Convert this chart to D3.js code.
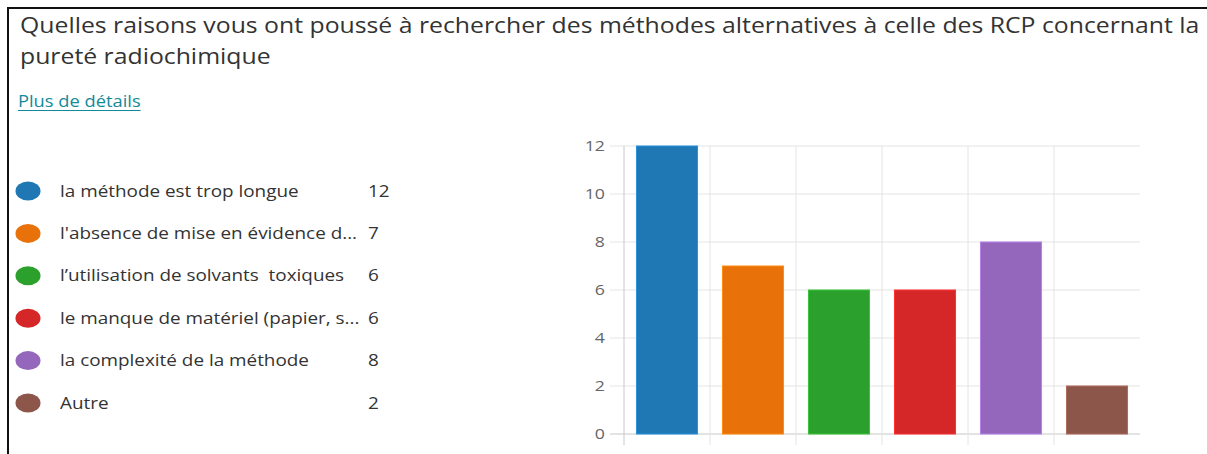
<!DOCTYPE html>
<html lang="fr">
<head>
<meta charset="utf-8">
<script src="https://cdn.jsdelivr.net/npm/d3@7"></script>
<style>
  html, body { margin: 0; padding: 0; background: #fff; }
  svg { display: block; }
  text { font-family: "Segoe UI", "Open Sans", "Noto Sans", sans-serif; white-space: pre; }
</style>
</head>
<body>
<svg id="chart" width="1207" height="454"></svg>
<script>
// Survey answers and counts
const categories = [
  "la méthode est trop longue",
  "l'absence de mise en évidence d...",
  "l\u2019utilisation de solvants  toxiques",
  "le manque de matériel (papier, s...",
  "la complexité de la méthode",
  "Autre"
];
const counts = [12, 7, 6, 6, 8, 2];
const colors = ["#1f77b4", "#e8710a", "#2ca02c", "#d62728", "#9467bd", "#8c564b"];
const yTicks = [0, 2, 4, 6, 8, 10, 12];
const titleLines = [
  "Quelles raisons vous ont poussé à rechercher des méthodes alternatives à celle des RCP concernant la",
  "pureté radiochimique"
];
const linkText = "Plus de détails";

// Text in this layout is rendered slightly wide
const widen = 1.18;
function stretch(sel, k = widen) {
  sel.each(function () {
    const w = this.getComputedTextLength();
    d3.select(this)
      .attr("textLength", w * k)
      .attr("lengthAdjust", "spacingAndGlyphs");
  });
}

const svg = d3.select("#chart");

// Frame (top and left edges)
svg.append("path")
  .attr("d", "M8,454 V8 H1207")
  .attr("fill", "none")
  .attr("stroke", "#111")
  .attr("stroke-width", 2);

// Question title
svg.selectAll("text.title")
  .data(titleLines)
  .join("text")
  .attr("class", "title")
  .attr("x", 20)
  .attr("y", (d, i) => 33 + i * 31)
  .attr("font-size", 21)
  .attr("fill", "#333")
  .text(d => d)
  .call(stretch);

// Details link
const link = svg.append("text")
  .attr("x", 18)
  .attr("y", 107)
  .attr("font-size", 15.5)
  .attr("fill", "#138a9a")
  .text(linkText);
const lw = link.node().getComputedTextLength() * widen;
link.call(stretch);
svg.append("line")
  .attr("x1", 18).attr("x2", 18 + lw)
  .attr("y1", 110.5).attr("y2", 110.5)
  .attr("stroke", "#138a9a").attr("stroke-width", 1);

// Legend
const legendY = d3.scalePoint().domain(d3.range(categories.length)).range([191, 403]);
const legend = svg.append("g").selectAll("g")
  .data(categories)
  .join("g")
  .attr("transform", (d, i) => `translate(0,${legendY(i)})`);
legend.append("ellipse")
  .attr("cx", 28).attr("cy", 0)
  .attr("rx", 12.5).attr("ry", 9.5)
  .attr("fill", (d, i) => colors[i]);
legend.append("text")
  .attr("x", 60).attr("y", 0).attr("dy", "0.35em")
  .attr("font-size", 16)
  .attr("fill", "#333")
  .text(d => d)
  .call(stretch);
legend.append("text")
  .attr("x", 368).attr("y", 0).attr("dy", "0.35em")
  .attr("font-size", 16)
  .attr("fill", "#333")
  .text((d, i) => counts[i])
  .call(stretch);

// Bar chart
const x = d3.scaleBand().domain(categories).range([624, 1140]).padding(0);
const y = d3.scaleLinear().domain([0, 12]).range([434, 146]);

// Horizontal grid lines with left tick stubs
svg.append("g").selectAll("line")
  .data(yTicks)
  .join("line")
  .attr("x1", 610).attr("x2", 1140)
  .attr("y1", d => y(d)).attr("y2", d => y(d))
  .attr("stroke", d => d === 0 ? "#c8c8c8" : "#e4e4e4")
  .attr("stroke-width", 1);

// Vertical grid lines at band edges, extending below the baseline
svg.append("g").selectAll("line")
  .data(categories)
  .join("line")
  .attr("x1", d => x(d)).attr("x2", d => x(d))
  .attr("y1", y(12)).attr("y2", 445)
  .attr("stroke", (d, i) => i === 0 ? "#c8c8c8" : "#e4e4e4")
  .attr("stroke-width", 1);

// Y axis labels
svg.append("g").selectAll("text")
  .data(yTicks)
  .join("text")
  .attr("x", 605)
  .attr("y", d => y(d))
  .attr("dy", "0.35em")
  .attr("text-anchor", "end")
  .attr("font-size", 15)
  .attr("fill", "#666")
  .text(d => d)
  .call(stretch);

// Bars
const inset = x.bandwidth() * 0.145;
svg.append("g").selectAll("rect")
  .data(counts)
  .join("rect")
  .attr("x", (d, i) => x(categories[i]) + inset)
  .attr("width", x.bandwidth() - 2 * inset)
  .attr("y", d => y(d))
  .attr("height", d => y(0) - y(d))
  .attr("fill", (d, i) => colors[i])
  .attr("stroke", (d, i) => d3.color(colors[i]).brighter(0.6))
  .attr("stroke-width", 1);
</script>
</body>
</html>
